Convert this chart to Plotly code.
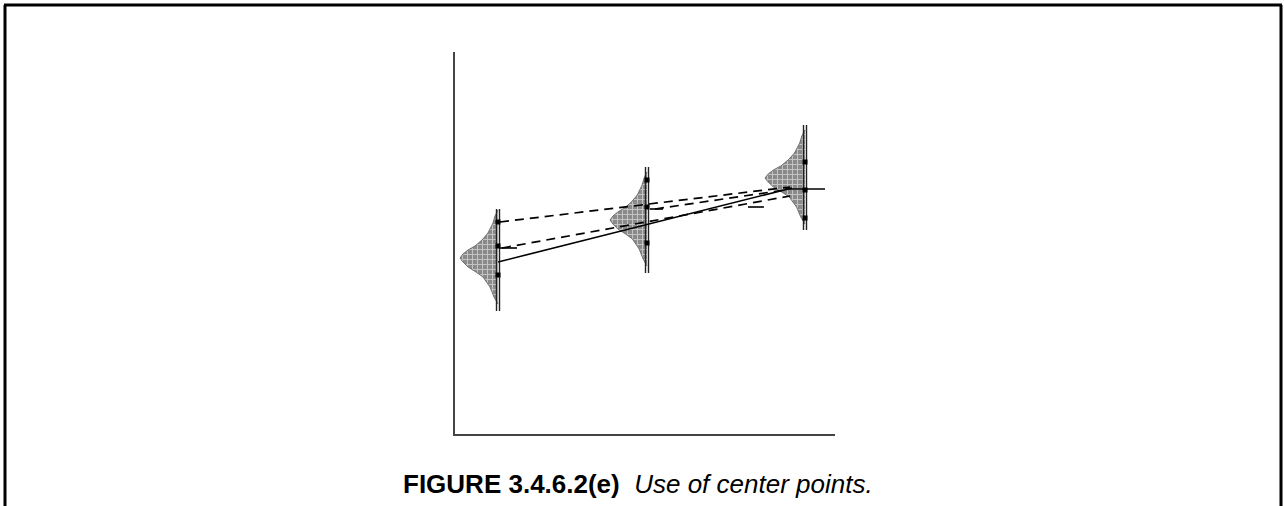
import plotly.graph_objects as go

# ---- data (chart units: origin at the axes corner) ----
group_x = [43, 192, 350]            # position of the three vertical lines
group_mean = [176, 214, 256]        # peak (mean) of each distribution
group_width = [38, 37, 40]          # horizontal extent of each distribution peak
vline_bottom = [123, 161, 204]
vline_top = [225, 267, 309]

# shared distribution profile (offset from mean, relative width)
profile_offset = [-46, -39, -29, -19, -14, -9, -4, 0, 4, 8, 12, 18, 25, 35, 42, 48]
profile_width = [0, 4, 8, 15, 22, 30, 35, 38, 35, 30, 23, 16, 10, 5, 3, 0]

# dots on each vertical line
dots_y = [[212, 188, 159], [254, 227, 191], [272, 244, 216]]

# connecting lines: (x0, y0, x1, y1)
solid_lines = [
    (43, 172, 337, 246),
    (330, 245, 370, 245),
    (45, 186, 62, 186),
    (195, 225, 208, 225),
    (293, 227, 309, 227),
]
dashed_lines = [
    (45, 212, 335, 247),
    (47, 186, 335, 238),
    (200, 225, 330, 244),
]

caption_bold = "FIGURE 3.4.6.2(e)"
caption_italic = "Use of center points."

# ---- layout geometry (pixels) ----
W, H = 1284, 506
PL, PR, PT, PB = 455, 835, 52, 434
XR = PR - PL
YR = PB - PT

fig = go.Figure()

# distributions
for cx, mu, w in zip(group_x, group_mean, group_width):
    xs = [cx] + [cx - pw / 38.0 * w for pw in profile_width] + [cx]
    ys = [mu + profile_offset[0]] + [mu + o for o in profile_offset] + [mu + profile_offset[-1]]
    fig.add_trace(go.Scatter(
        x=xs, y=ys, mode="lines", fill="toself",
        fillcolor="#8c8c8c",
        fillpattern=dict(shape="+", bgcolor="#8a8a8a", fgcolor="white", size=5, solidity=0.35),
        line=dict(color="#6f6f6f", width=1), hoverinfo="skip", showlegend=False))

# vertical double lines
for cx, yb, yt in zip(group_x, vline_bottom, vline_top):
    for dx in (-1.5, 1.5):
        fig.add_trace(go.Scatter(x=[cx + dx, cx + dx], y=[yb, yt], mode="lines",
                                 line=dict(color="#222", width=1.4),
                                 hoverinfo="skip", showlegend=False))

# dots
for cx, ds in zip(group_x, dots_y):
    fig.add_trace(go.Scatter(x=[cx] * len(ds), y=ds, mode="markers",
                             marker=dict(color="black", size=5, symbol="square"),
                             hoverinfo="skip", showlegend=False))

for x0, y0, x1, y1 in solid_lines:
    fig.add_trace(go.Scatter(x=[x0, x1], y=[y0, y1], mode="lines",
                             line=dict(color="black", width=1.6),
                             hoverinfo="skip", showlegend=False))
for x0, y0, x1, y1 in dashed_lines:
    fig.add_trace(go.Scatter(x=[x0, x1], y=[y0, y1], mode="lines",
                             line=dict(color="black", width=1.7, dash="9px,6px"),
                             hoverinfo="skip", showlegend=False))


def px(x):
    return (x - PL) / XR


def py(y):
    return (PB - y) / YR


# outer frame (top, left, right)
frame = dict(type="line", xref="paper", yref="paper", line=dict(color="black", width=3))
fig.add_shape(**frame, x0=px(4), x1=px(1282), y0=py(5), y1=py(5))
fig.add_shape(**frame, x0=px(5), x1=px(5), y0=py(5), y1=py(520))
fig.add_shape(**frame, x0=px(1281), x1=px(1281), y0=py(5), y1=py(520))

fig.add_annotation(
    x=px(638), y=py(484), xref="paper", yref="paper", xanchor="center", yanchor="middle",
    text=f"<b>{caption_bold}</b>\u00a0\u00a0<i>{caption_italic}</i>",
    showarrow=False, font=dict(family="Liberation Sans, Arial", size=26, color="black"))

fig.update_xaxes(range=[0, XR], showline=True, linecolor="#444", linewidth=2,
                 showgrid=False, zeroline=False, showticklabels=False, ticks="")
fig.update_yaxes(range=[0, YR], showline=True, linecolor="#444", linewidth=2,
                 showgrid=False, zeroline=False, showticklabels=False, ticks="")
fig.update_layout(
    width=W, height=H, autosize=False,
    margin=dict(l=PL, r=W - PR, t=PT, b=H - PB, pad=0),
    paper_bgcolor="white", plot_bgcolor="white", showlegend=False)

fig.write_html("out.html", config={"displayModeBar": False, "staticPlot": True},
               post_script="document.body.style.margin='0px';document.body.style.overflow='hidden';")
